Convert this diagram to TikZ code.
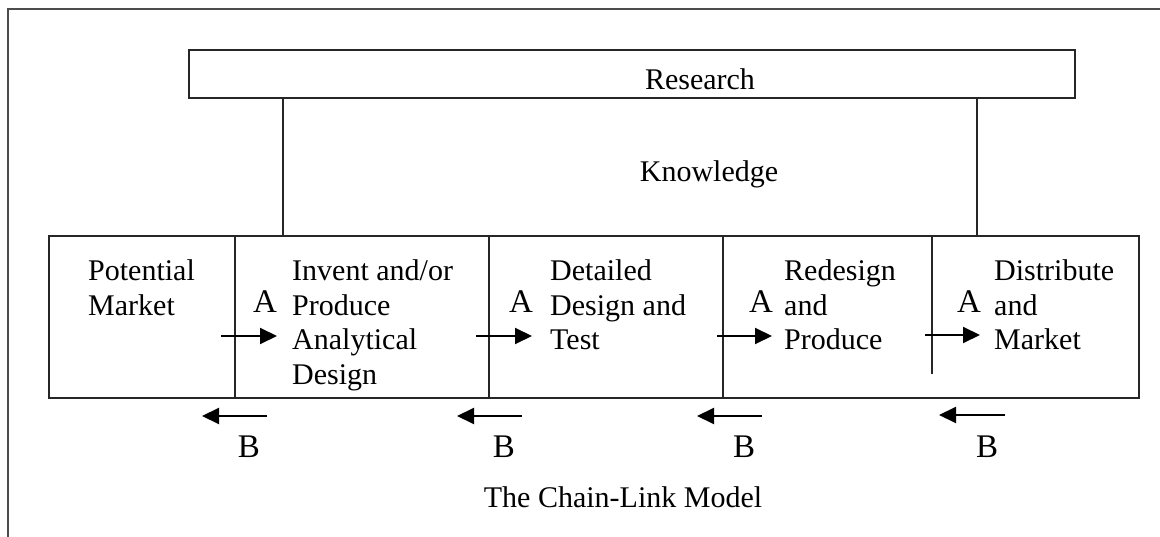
\documentclass[tikz,border=0pt]{standalone}
\usepackage{fontspec}
\setmainfont{Liberation Serif}
\usetikzlibrary{arrows.meta}
% left-aligned multi-line stage text, baseline on its first line
\newcommand\stagelines[1]{\parbox[t]{6cm}{\raggedright #1}}
\begin{document}
\begin{tikzpicture}[x=1pt,y=-1pt,
  rule/.style={line width=2pt, draw=black!85},
  frameline/.style={line width=2.2pt, draw=black!70},
  flow/.style={line width=2pt, -{Triangle[length=17pt,width=16pt]}},
  label/.style={inner sep=0pt, font=\fontsize{30}{34.5}\selectfont},
  stagetext/.style={label, anchor=base west},
  letter/.style={inner sep=0pt, anchor=base, font=\fontsize{33}{36}\selectfont}]
\useasboundingbox (0,0) rectangle (1160,537);

% outer frame (top and left edges)
\coordinate (ftr) at (1160,9);
\coordinate (ftl) at (8,9);
\coordinate (fbl) at (8,537);
\draw[frameline] (ftr) -- (ftl) -- (fbl);

% research bar
\node[rule, draw, inner sep=0pt, minimum width=886pt, minimum height=48pt] (research) at (632,74) {};
\node[label, anchor=base] (researchlbl) at (700,90) {Research};
\node[label, anchor=base] (knowledge) at (709,182) {Knowledge};

% chain of stages
\node[rule, draw, inner sep=0pt, minimum width=1090pt, minimum height=162pt] (chain) at (594,317) {};

\coordinate (d1t) at (235,236); \coordinate (d1b) at (235,398);
\coordinate (d2t) at (489,236); \coordinate (d2b) at (489,398);
\coordinate (d3t) at (723,236); \coordinate (d3b) at (723,398);
\coordinate (d4t) at (932,236); \coordinate (d4b) at (932,374);
\draw[rule] (d1t) -- (d1b);
\draw[rule] (d2t) -- (d2b);
\draw[rule] (d3t) -- (d3b);
\draw[rule] (d4t) -- (d4b);

% knowledge links from research down to the chain
\coordinate (k1) at (283,236);
\coordinate (k2) at (977,236);
\draw[rule] (research.south -| k1) -- (k1);
\draw[rule] (research.south -| k2) -- (k2);

% stage texts
\node[stagetext] (potential) at (88,281) {\stagelines{Potential\\Market}};
\node[stagetext] (invent) at (292,281) {\stagelines{Invent and/or\\Produce\\Analytical\\Design}};
\node[stagetext] (detailed) at (550,281) {\stagelines{Detailed\\Design and\\Test}};
\node[stagetext] (redesign) at (784,281) {\stagelines{Redesign\\and\\Produce}};
\node[stagetext] (distribute) at (994,281) {\stagelines{Distribute\\and\\Market}};

% forward path A
\coordinate (a1s) at (221,336); \coordinate (a1e) at (277,336);
\coordinate (a2s) at (476,336); \coordinate (a2e) at (532,336);
\coordinate (a3s) at (717,336); \coordinate (a3e) at (772,336);
\coordinate (a4s) at (925,335); \coordinate (a4e) at (980,335);
\draw[flow] (a1s) -- (a1e);
\draw[flow] (a2s) -- (a2e);
\draw[flow] (a3s) -- (a3e);
\draw[flow] (a4s) -- (a4e);
\node[letter] (A1) at (265,313) {A};
\node[letter] (A2) at (521,313) {A};
\node[letter] (A3) at (761,313) {A};
\node[letter] (A4) at (969,313) {A};

% feedback path B
\coordinate (b1s) at (267,416); \coordinate (b1e) at (202,416);
\coordinate (b2s) at (522,416); \coordinate (b2e) at (457,416);
\coordinate (b3s) at (762,416); \coordinate (b3e) at (697,416);
\coordinate (b4s) at (1005,415); \coordinate (b4e) at (939,415);
\draw[flow] (b1s) -- (b1e);
\draw[flow] (b2s) -- (b2e);
\draw[flow] (b3s) -- (b3e);
\draw[flow] (b4s) -- (b4e);
\node[letter] (B1) at (249,457) {B};
\node[letter] (B2) at (504,457) {B};
\node[letter] (B3) at (744,457) {B};
\node[letter] (B4) at (987,457) {B};

% caption
\node[label, anchor=base] (caption) at (623,507) {The Chain-Link Model};
\end{tikzpicture}
\end{document}
